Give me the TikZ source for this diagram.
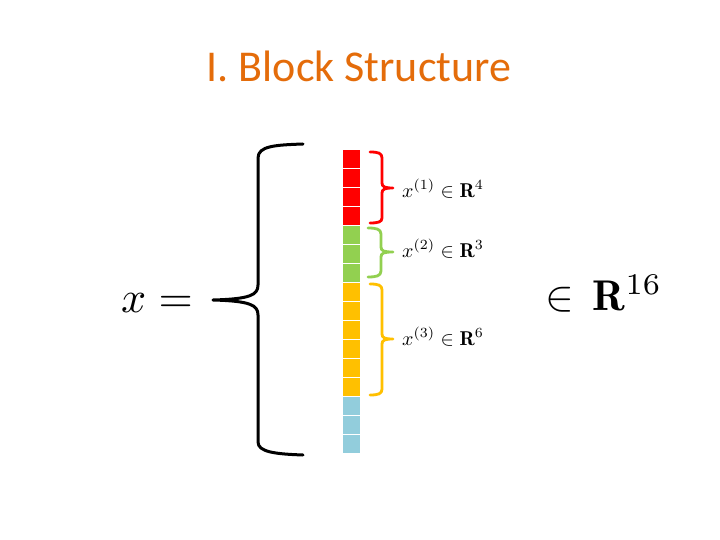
\documentclass[tikz,border=0pt]{standalone}
\usepackage{amsmath}
\usepackage{fontspec}
\newfontfamily\titlefont{Carlito}
\definecolor{ttl}{HTML}{E46C0A}
\definecolor{cred}{HTML}{FF0000}
\definecolor{cgreen}{HTML}{92D050}
\definecolor{cyellow}{HTML}{FFC000}
\definecolor{cblue}{HTML}{92CDDC}
\begin{document}
\begin{tikzpicture}[x=1pt,y=-1pt,
  cell/.style={draw=white,line width=0.8pt,minimum width=18pt,minimum height=19pt,inner sep=0pt,outer sep=0pt},
  bigbrace/.style={line width=3pt,line cap=round,line join=round},
  smallbrace/.style={line width=2.8pt,line cap=round,line join=round},
  lbl/.style={anchor=base west,inner sep=0pt},
  bigmath/.style={anchor=base west,inner sep=0pt}]
\useasboundingbox (0,0) rectangle (720,540);
\fill[white] (0,0) rectangle (720,540);
\node[anchor=base,inner sep=0pt,text=ttl,font=\titlefont\fontsize{44}{50}\selectfont] (title) at (359,82) {I. Block Structure};
% cells
\foreach \i in {0,...,3}{\node[cell,fill=cred] (c\i) at (351,{149+19*\i+9.5}) {};}
\foreach \i in {4,...,6}{\node[cell,fill=cgreen] (c\i) at (351,{149+19*\i+9.5}) {};}
\foreach \i in {7,...,12}{\node[cell,fill=cyellow] (c\i) at (351,{149+19*\i+9.5}) {};}
\foreach \i in {13,...,15}{\node[cell,fill=cblue] (c\i) at (351,{149+19*\i+9.5}) {};}
% big brace
\draw[bigbrace] (303,144) .. controls (275,145) and (258,146) .. (258,158) -- (258,285)
  .. controls (258,295) and (250,299) .. (213,300)
  .. controls (250,301) and (258,305) .. (258,315) -- (258,442)
  .. controls (258,452) and (275,454) .. (303,455);
% small braces
\draw[smallbrace,cred] (370,152) .. controls (378,152) and (382,153) .. (382,158) -- (382,183)
  .. controls (382,187) and (385,188) .. (393,188)
  .. controls (385,188) and (382,189) .. (382,193) -- (382,218)
  .. controls (382,222) and (378,223) .. (370,223);
\draw[smallbrace,cgreen] (368,228) .. controls (376,228) and (381,229) .. (381,234) -- (381,247)
  .. controls (381,251) and (384,252) .. (393,252)
  .. controls (384,252) and (381,253) .. (381,257) -- (381,271)
  .. controls (381,276) and (376,277) .. (368,277);
\draw[smallbrace,cyellow] (370,284) .. controls (378,284) and (382,285) .. (382,290) -- (382,334)
  .. controls (382,338) and (385,339) .. (393,339)
  .. controls (385,339) and (382,340) .. (382,344) -- (382,389)
  .. controls (382,394) and (378,395) .. (370,395);
% labels
\node[lbl] (l1) at (402,197) {\scalebox{2}{$x^{(1)}\in\mathbf{R}^4$}};
\node[lbl] (l2) at (402,257) {\scalebox{2}{$x^{(2)}\in\mathbf{R}^3$}};
\node[lbl] (l3) at (402,345) {\scalebox{2}{$x^{(3)}\in\mathbf{R}^6$}};
\node[bigmath] (lhs) at (121,312) {\scalebox{4.4}{$x=$}};
\node[bigmath] (rhs) at (545,310) {\scalebox{4.3}{$\in\,\mathbf{R}^{16}$}};
\end{tikzpicture}
\end{document}
